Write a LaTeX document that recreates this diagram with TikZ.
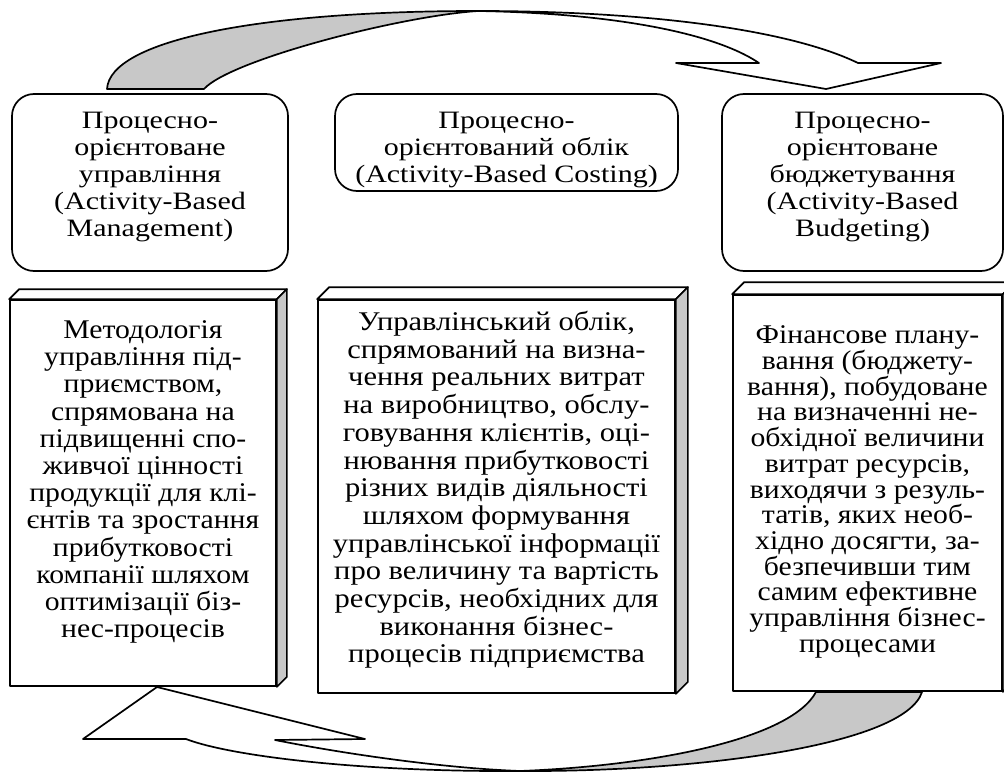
\documentclass[tikz,border=0pt]{standalone}
\usepackage{fontspec}
\setmainfont{Liberation Serif}
\newfontfamily\headfont[FakeStretch=1.2]{Liberation Serif}
\newfontfamily\bodyfont[FakeStretch=1.1]{Liberation Serif}
\newfontfamily\bodyfontwide[FakeStretch=1.13]{Liberation Serif}
\usetikzlibrary{calc}
\definecolor{sidegray}{RGB}{200,200,200}

% faces of a slab: top face and shaded right side of front node #1, depth #2
\newcommand\slabfaces[2]{%
  \draw[topface] (#1.north west) -- ++(#2,-#2) -- ($(#1.north east)+(#2,-#2)$) -- (#1.north east) -- cycle;
  \draw[sideface] (#1.north east) -- ++(#2,-#2) -- ($(#1.south east)+(#2,-#2)$) -- (#1.south east) -- cycle;
}

\begin{document}
\begin{tikzpicture}[x=1pt,y=-1pt,line width=1.7pt,line join=round,
  topbox/.style={draw,rounded corners=22pt,inner sep=0pt,fill=white},
  frontbox/.style={draw,inner sep=0pt,fill=white},
  topface/.style={draw,fill=white},
  sideface/.style={draw,fill=sidegray},
  headtext/.style={align=center,inner sep=0pt,font=\headfont\fontsize{25}{27}\selectfont},
  bodytext/.style={align=center,inner sep=0pt},
  ribbonfront/.style={draw,fill=white},
  ribbonback/.style={draw,fill=sidegray}]
\useasboundingbox (0,0) rectangle (1004,776);

% ---------- upper curved arrow: management -> budgeting ----------
\coordinate (ua1) at (107,89);
\coordinate (ua2) at (204,89);
\coordinate (utw) at (478,11);
\coordinate (uo) at (858,63);
\coordinate (ui) at (759,63);
\coordinate (ubo) at (941,63);
\coordinate (ubi) at (676,63);
\coordinate (utip) at (826,89);
\path[ribbonback] (ua1) .. controls (110,40) and (260,11) .. (utw)
  .. controls (400,16) and (230,60) .. (ua2) -- cycle;
\path[ribbonfront] (utw) .. controls (650,11) and (790,30) .. (uo) -- (ubo) -- (utip)
  -- (ubi) -- (ui) .. controls (710,30) and (600,13) .. (utw) -- cycle;

% ---------- lower curved arrow: budgeting -> management ----------
\coordinate (la1) at (922,692);
\coordinate (la2) at (816,692);
\coordinate (ltw) at (520,771);
\coordinate (lo) at (186,739);
\coordinate (li) at (275,740);
\coordinate (lbo) at (83,739);
\coordinate (lbi) at (365,739);
\coordinate (ltip) at (157,687);
\path[ribbonback] (la1) .. controls (905,745) and (700,772) .. (ltw)
  .. controls (650,766) and (790,740) .. (la2) -- cycle;
\path[ribbonfront] (ltw) .. controls (360,772) and (230,756) .. (lo) -- (lbo) -- (ltip)
  -- (lbi) -- (li) .. controls (340,753) and (440,768) .. (ltw) -- cycle;

% ---------- upper row: rounded boxes ----------
\node[topbox,minimum width=276pt,minimum height=177pt] (abm) at (150,182.5) {};
\node[topbox,minimum width=343pt,minimum height=97pt] (abc) at (506.5,142.5) {};
\node[topbox,minimum width=281pt,minimum height=177pt] (abb) at (862.5,182.5) {};

\node[headtext] (abmtext) at (150,177) {Процесно-\\орієнтоване\\управління\\(Activity-Based\\Management)};
\node[headtext] (abctext) at (506.5,150) {Процесно-\\орієнтований облік\\(Activity-Based Costing)};
\node[headtext] (abbtext) at (862.5,177) {Процесно-\\орієнтоване\\бюджетування\\(Activity-Based\\Budgeting)};

% ---------- lower row: slabs with definitions ----------
\node[frontbox,minimum width=266pt,minimum height=386pt] (defm) at (143,493) {};
\slabfaces{defm}{10}
\node[frontbox,minimum width=357pt,minimum height=393pt] (defc) at (496.5,496.5) {};
\slabfaces{defc}{12}
\node[frontbox,minimum width=269pt,minimum height=396pt] (defb) at (867.5,493) {};
\slabfaces{defb}{12}

\node[bodytext,font=\bodyfont\fontsize{27}{27.2}\selectfont] (defmtext) at (143,482)
 {Методологія\\управління під-\\приємством,\\спрямована на\\підвищенні спо-\\живчої цінності\\продукції для клі-\\єнтів та зростання\\прибутковості\\компанії шляхом\\оптимізації біз-\\нес-процесів};
\node[bodytext,font=\bodyfontwide\fontsize{27}{27.7}\selectfont] (defctext) at (496.5,490)
 {Управлінський облік,\\спрямований на визна-\\чення реальних витрат\\на виробництво, обслу-\\говування клієнтів, оці-\\нювання прибутковості\\різних видів діяльності\\шляхом формування\\управлінської інформації\\про величину та вартість\\ресурсів, необхідних для\\виконання бізнес-\\процесів підприємства};
\node[bodytext,font=\bodyfont\fontsize{27}{25.7}\selectfont] (defbtext) at (867.5,492)
 {Фінансове плану-\\вання (бюджету-\\вання), побудоване\\на визначенні не-\\обхідної величини\\витрат ресурсів,\\виходячи з резуль-\\татів, яких необ-\\хідно досягти, за-\\безпечивши тим\\самим ефективне\\управління бізнес-\\процесами};
\end{tikzpicture}
\end{document}
